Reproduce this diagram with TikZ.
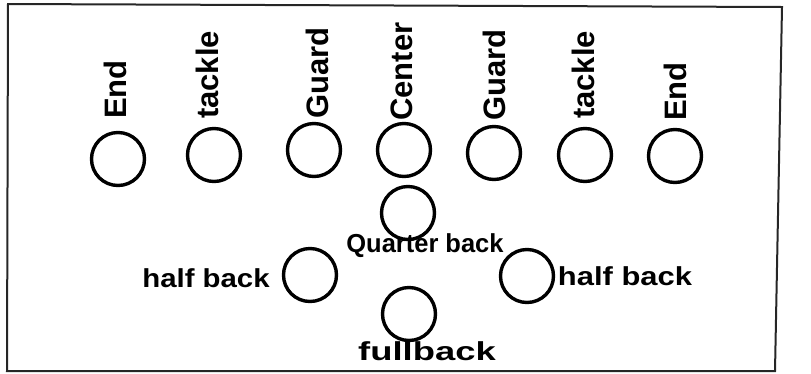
\documentclass[tikz,border=0pt]{standalone}
\usepackage{fontspec}
\setmainfont{Liberation Sans}
\begin{document}
\begin{tikzpicture}[x=1pt, y=-1pt,
                    player/.style={draw, circle, line width=3.4pt, minimum size=53pt, inner sep=0pt},
                    vlbl/.style={rotate=90, anchor=west, inner sep=0pt, font=\bfseries\fontsize{31}{34}\selectfont},
                    hlbl/.style={inner sep=0pt, font=\bfseries\fontsize{26}{30}\selectfont}]
  \useasboundingbox (0,0) rectangle (811,373);
  \draw[line width=2pt, black!85] (8,4) -- (782,7) -- (775,371) -- (7,371) -- cycle;
  % line
  \node[player] (le) at (118,159) {};
  \node[player] (lt) at (214,155) {};
  \node[player] (lg) at (314,150) {};
  \node[player] (c)  at (404,150) {};
  \node[player] (rg) at (494,153) {};
  \node[player] (rt) at (585,155) {};
  \node[player] (re) at (675,156) {};
  % backs
  \node[player] (qb) at (408,213) {};
  \node[player] (lh) at (310,275) {};
  \node[player] (rh) at (527,276) {};
  \node[player] (fb) at (409,314) {};
  % names
  \node[vlbl] (lel) at (115,119) {End};
  \node[vlbl] (ltl) at (207,119) {tackle};
  \node[vlbl] (lgl) at (317,119) {Guard};
  \node[vlbl] (cl)  at (402,121) {Center};
  \node[vlbl] (rgl) at (494,121) {Guard};
  \node[vlbl] (rtl) at (583,119) {tackle};
  \node[vlbl] (rel) at (675,121) {End};
  \node[hlbl, xscale=0.98] (qbl) at (425,246) {Quarter back};
  \node[hlbl, xscale=1.13] (lhl) at (206,278) {half back};
  \node[hlbl, xscale=1.19] (rhl) at (625,276) {half back};
  \node[hlbl, xscale=1.4]  (fbl) at (427,351) {fullback};
\end{tikzpicture}
\end{document}
